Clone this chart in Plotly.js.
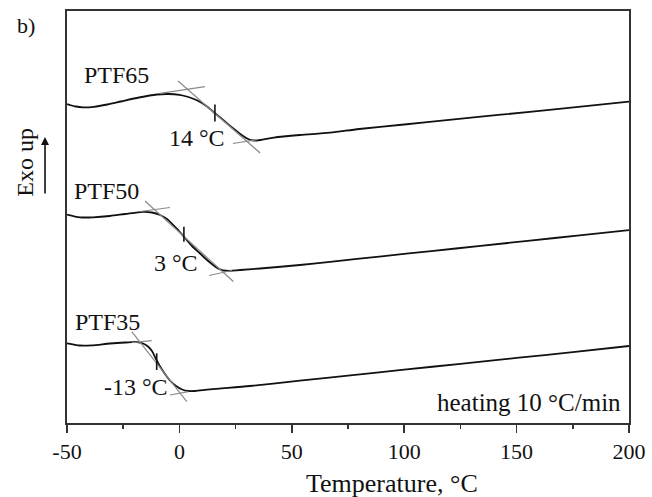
<!DOCTYPE html>
<html>
<head>
<meta charset="utf-8">
<script src="https://cdn.plot.ly/plotly-3.0.1.min.js"></script>
<style>html,body{margin:0;padding:0;background:#fff;}#chart{width:652px;height:497px;}</style>
</head>
<body>
<div id="chart"></div>
<script>
// Temperature (°C) and relative heat flow (arbitrary units, curves offset)
const tempPTF65 = [-50,-46,-43,-38,-32,-26,-18,-10,-5,0,4,8,12,16,20,24,28,31,33,36,42,53.6,67,80,100,120,143,170,200];
const heatPTF65 = [319,316.5,315.7,316.2,318.5,321.5,325.5,328.5,329,328.2,326,322.5,317,309.5,302,294.5,287.5,283.5,282.5,283,285.4,288,290.3,294,298.5,303.1,308.3,314.4,321.3];

const tempPTF50 = [-50,-44.2,-38.4,-30.9,-24.2,-16.2,-12.2,-8.6,-5.5,-2.8,-0.2,2.5,5.6,9.2,12.3,15,17.2,19.4,22.5,27,35.9,53.6,67,90,112,134,156,178,200];
const heatPTF50 = [208.5,205.7,205.7,207,209,211.2,210.5,208,204,198,192,185,177,169.5,163,158,154.5,152.7,152.2,153,154.5,158,161.2,166.7,171.9,177.1,182.4,187.6,192.8];

const tempPTF35 = [-50,-44.2,-38.9,-30.9,-24.2,-18.9,-16.2,-14,-12.2,-10.4,-8.6,-6.4,-4.2,-1.5,1.2,3.8,6.9,13.6,31.4,53.6,75,100,125,150,175,200];
const heatPTF35 = [79.7,77.5,77.7,79.5,80.5,81,79.5,76.5,72,64,56.5,49,42.5,37,33.5,32,32,33.7,37,42.3,47.4,53.3,59.2,65.1,70.8,77];

// Tangent construction lines (pairs of end points, null separates segments)
const tangentT = [-0.6,35.9,null,-8.6,11.4,null,23.8,35,null,
                  -15.3,24,null,-17.5,-4.2,null,13.2,23.4,null,
                  -21.2,3.3,null,-21.2,-12.3,null,-4.2,4];
const tangentH = [342,270,null,329.7,336.3,null,279.5,283.5,null,
                  222,141.5,null,211.5,215.5,null,147.5,152.5,null,
                  91.3,21.3,null,80.3,82.3,null,28,31.3];

// Glass transition markers
const tgT = [15.8,15.8,null,2.0,2.0,null,-10.1,-10.1];
const tgH = [318.5,301.5,null,196.3,181.3,null,69.7,53];

const sampleNames = ['PTF65','PTF50','PTF35'];
const tgLabels = ['14 °C','3 °C','-13 °C'];
const xTickVals = [-50,0,50,100,150,200];

const FONT = 'Liberation Serif, Times New Roman, serif';
const curveStyle = {color:'#111', width:1.8};

const traces = [
  {x:tempPTF65, y:heatPTF65, mode:'lines', line:Object.assign({shape:'spline', smoothing:0.8}, curveStyle), name:sampleNames[0]},
  {x:tempPTF50, y:heatPTF50, mode:'lines', line:Object.assign({shape:'spline', smoothing:0.8}, curveStyle), name:sampleNames[1]},
  {x:tempPTF35, y:heatPTF35, mode:'lines', line:Object.assign({shape:'spline', smoothing:0.8}, curveStyle), name:sampleNames[2]},
  {x:tangentT, y:tangentH, mode:'lines', line:{color:'#8a8a8a', width:1.2}, connectgaps:false},
  {x:tgT, y:tgH, mode:'lines', line:{color:'#111', width:1.6}, connectgaps:false}
];

const txt = (s, x, y, xa, extra) => Object.assign({text:s, x:x, y:y, xref:'x', yref:'y', xanchor:xa, yanchor:'middle', showarrow:false, font:{family:FONT, size:24, color:'#111'}}, extra||{});

const annotations = [
  txt(sampleNames[0], -43.5, 347.7, 'left'),
  txt(sampleNames[1], -47.9, 231.7, 'left'),
  txt(sampleNames[2], -47.2, 101.3, 'left'),
  txt(tgLabels[0], -5.3, 284.7, 'left'),
  txt(tgLabels[1], -12.3, 159.7, 'left'),
  txt(tgLabels[2], -34.6, 36.3, 'left'),
  txt('heating 10 °C/min', 197.2, 20.5, 'right', {font:{family:FONT, size:25, color:'#111'}}),
  {text:'b)', xref:'paper', yref:'paper', x:-0.073, y:0.965, xanchor:'center', yanchor:'middle', showarrow:false, font:{family:FONT, size:22, color:'#111'}},
  {text:'Exo up', xref:'paper', yref:'paper', x:-0.0747, y:0.632, xanchor:'center', yanchor:'middle', textangle:-90, showarrow:false, font:{family:FONT, size:24, color:'#111'}},
  {text:'', xref:'paper', yref:'paper', x:-0.0391, y:0.694, ax:0, ay:58, showarrow:true, arrowhead:2, arrowsize:1, arrowwidth:1.6, arrowcolor:'#111'},
  {text:'Temperature, °C', xref:'paper', yref:'paper', x:0.579, y:-0.148, xanchor:'center', yanchor:'middle', showarrow:false, font:{family:FONT, size:26, color:'#111'}}
];

const layout = {
  width:652, height:497,
  margin:{l:67, r:23, t:11, b:74},
  paper_bgcolor:'#fff', plot_bgcolor:'#fff',
  showlegend:false,
  xaxis:{range:[-50,200], tickvals:xTickVals, ticktext:xTickVals.map(String), ticks:'outside', ticklen:8, tickwidth:1.5, tickcolor:'#333',
         minor:{dtick:25, tick0:-50, ticks:'outside', ticklen:4, tickwidth:1.5, tickcolor:'#333', showgrid:false},
         showline:true, linecolor:'#333', linewidth:1.6, mirror:true, showgrid:false, zeroline:false,
         tickfont:{family:FONT, size:22, color:'#111'}},
  yaxis:{range:[0,412], showticklabels:false, ticks:'', showline:true, linecolor:'#333', linewidth:1.6, mirror:true, showgrid:false, zeroline:false},
  annotations:annotations
};

Plotly.newPlot('chart', traces, layout, {displayModeBar:false, staticPlot:true});
</script>
</body>
</html>
